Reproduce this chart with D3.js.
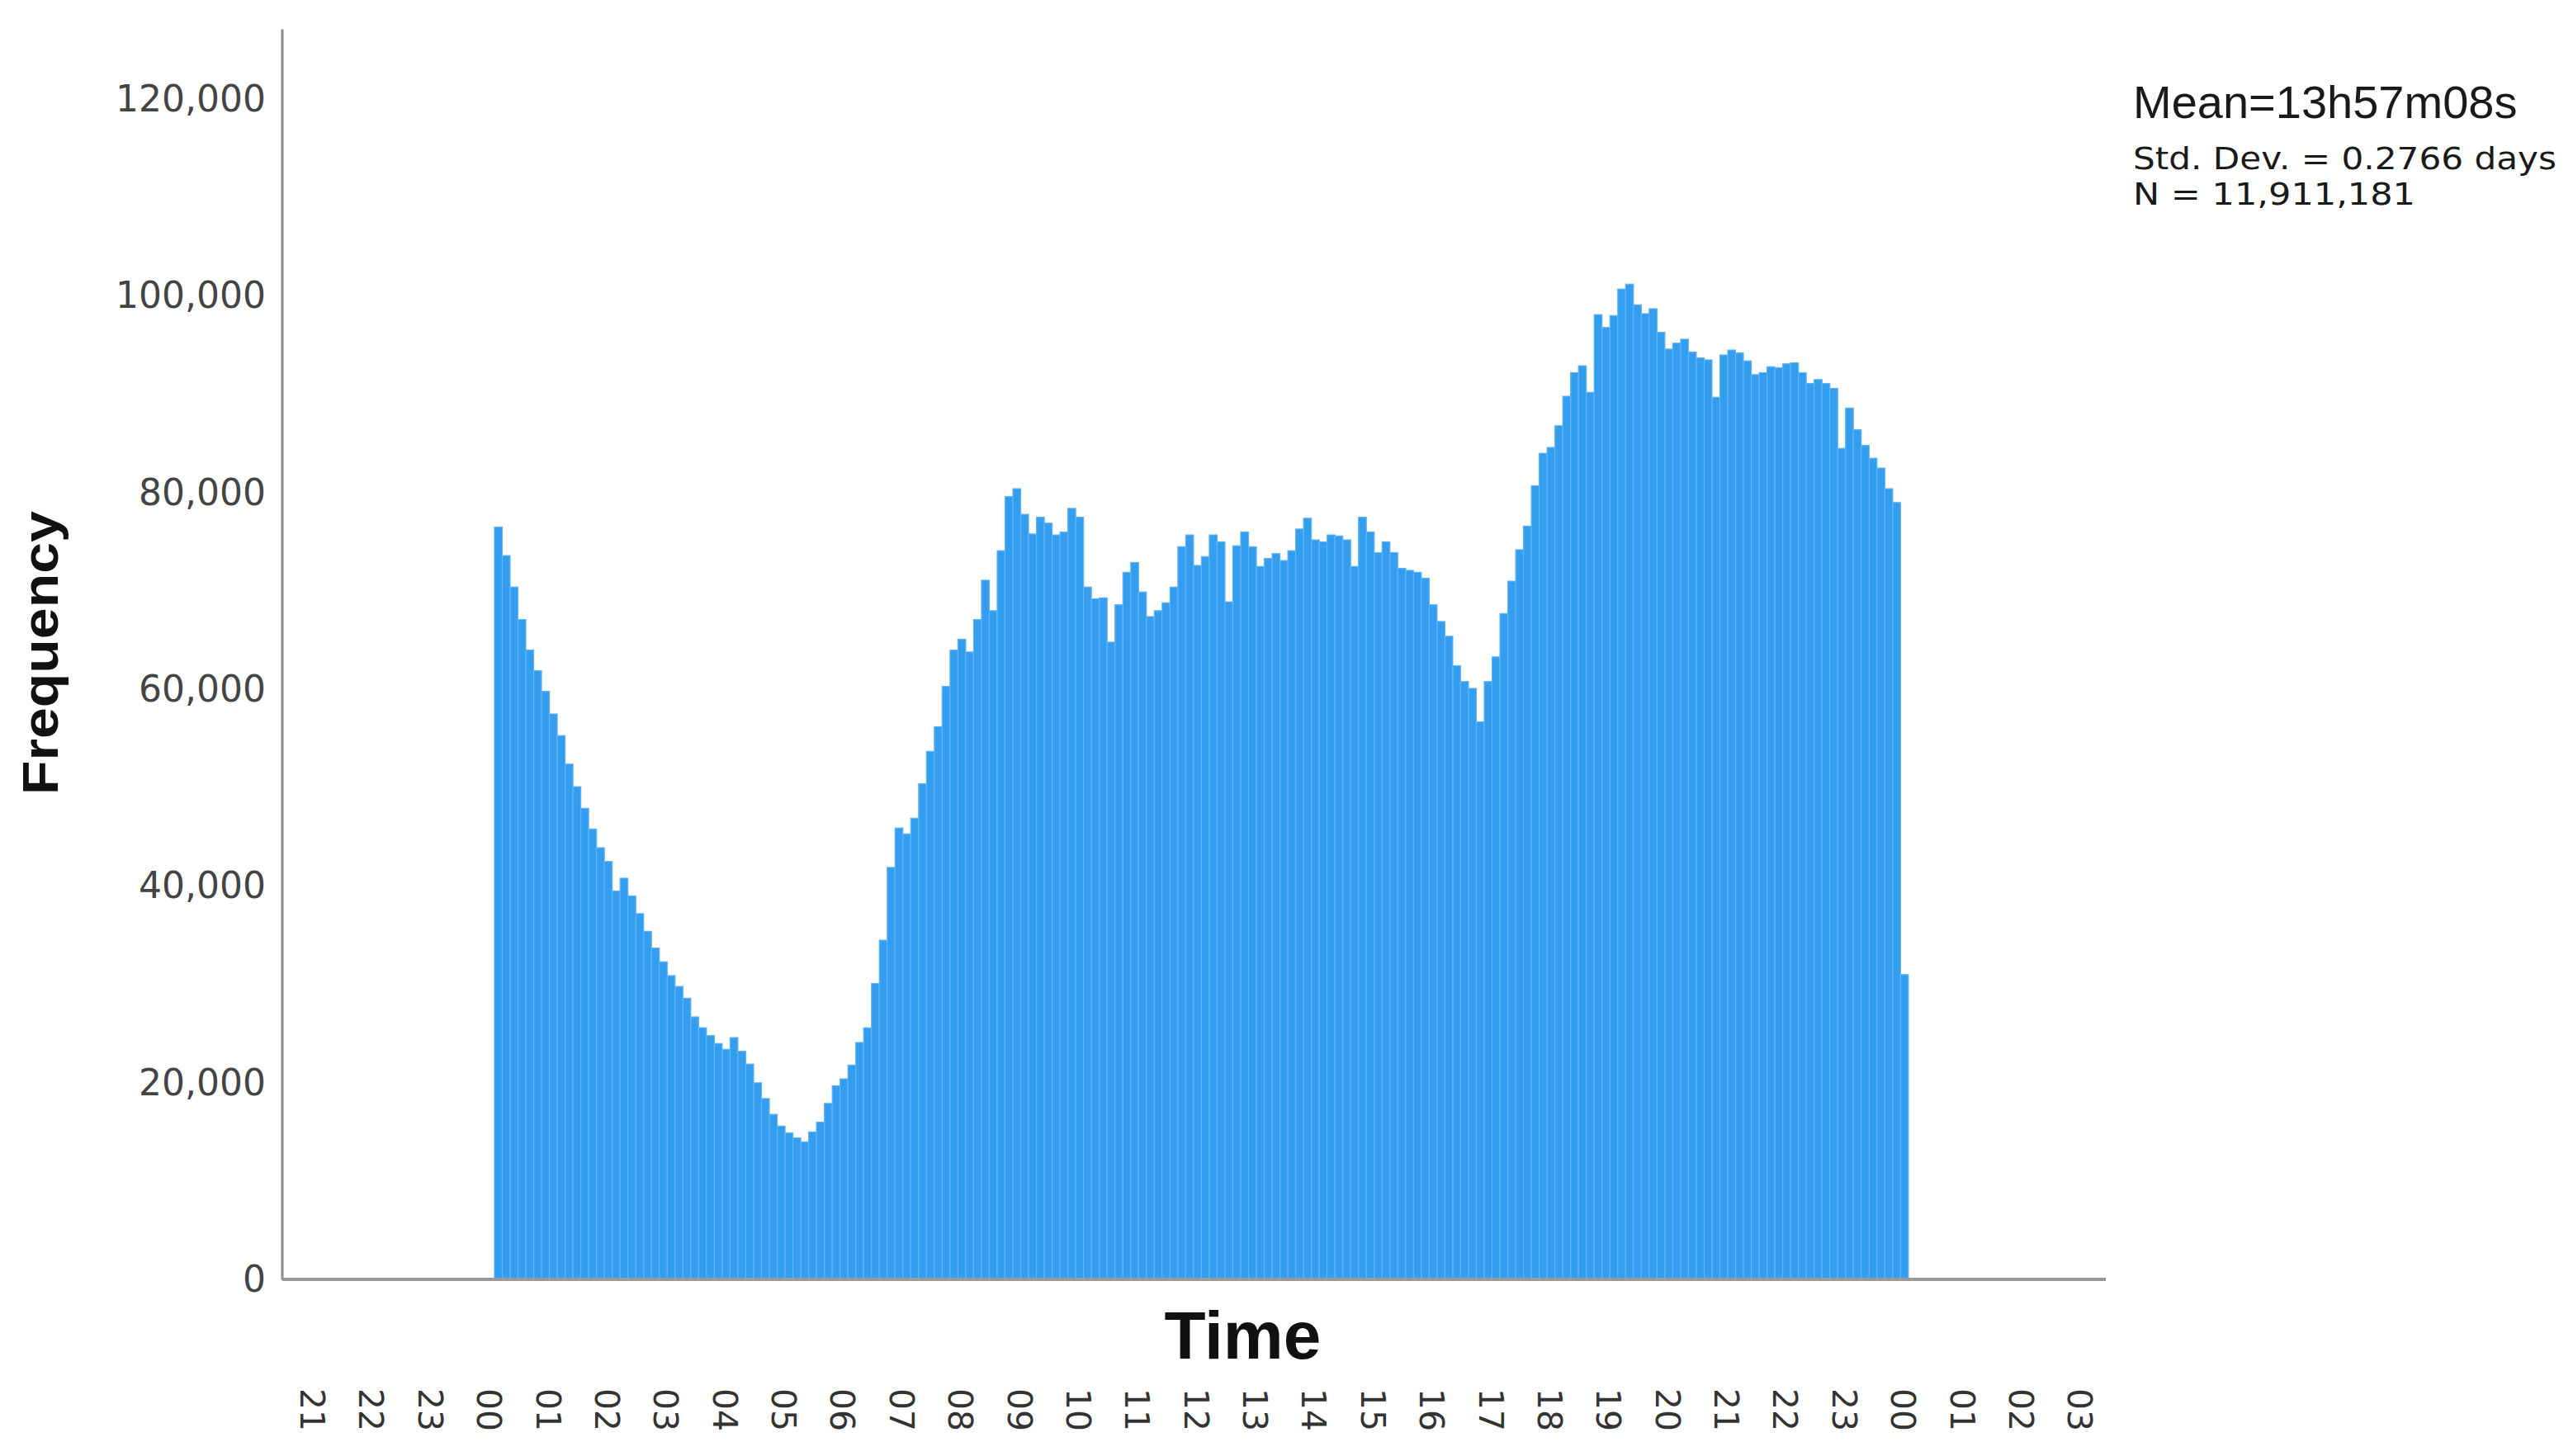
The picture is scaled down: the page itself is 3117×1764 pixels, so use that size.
<!DOCTYPE html>
<html>
<head>
<meta charset="utf-8">
<script src="https://cdn.jsdelivr.net/npm/d3@7"></script>
<style>
  body { margin: 0; background: #ffffff; }
</style>
</head>
<body>
<script>
// VARIABLE CADRE
const largeur = 3117;
const hauteur = 1764;

// Données : fréquences par tranche de 8 minutes, de 00:00 à 24:00
const frequences = [
  76400, 73500, 70300, 67000, 63900, 61800, 59700, 57400, 55200, 52300,
  50000, 47800, 45700, 43800, 42400, 39400, 40700, 38900, 37100, 35300,
  33600, 32200, 30800, 29700, 28500, 26600, 25500, 24700, 23900, 23300,
  24500, 23100, 21800, 19900, 18300, 16700, 15500, 14800, 14300, 13900,
  14900, 15900, 17800, 19600, 20300, 21700, 24000, 25500, 30000, 34400,
  41800, 45800, 45200, 46800, 50300, 53600, 56100, 60200, 63900, 65000,
  63700, 67000, 71000, 67900, 74000, 79500, 80300, 77700, 75700, 77400,
  76800, 75600, 75900, 78300, 77400, 70300, 69100, 69200, 64700, 68500,
  71800, 72800, 69800, 67300, 67900, 68700, 70300, 74400, 75600, 72500,
  73400, 75600, 74900, 68800, 74500, 75900, 74400, 72400, 73200, 73700,
  73000, 74000, 76200, 77300, 75100, 74900, 75600, 75500, 75100, 72400,
  77400, 75900, 73800, 74900, 73800, 72200, 72000, 71800, 71200, 68500,
  66800, 65300, 62300, 60700, 60000, 56600, 60700, 63200, 67600, 70900,
  74100, 76500, 80600, 83900, 84500, 86700, 89700, 92100, 92800, 90100,
  98000, 96700, 97900, 100600, 101100, 99000, 98100, 98600, 96200, 94500,
  95100, 95500, 94200, 93600, 93400, 89600, 93900, 94400, 94100, 93300,
  91900, 92100, 92700, 92600, 93000, 93100, 92100, 91000, 91400, 91000,
  90500, 84400, 88500, 86300, 84700, 83400, 82400, 80300, 78900, 30900
];
const largeurClasse = 8 / 60; // en heures

// heures affichées sous l'axe (de 21h la veille à 03h le lendemain)
const heuresTicks = d3.range(-3, 28);
const etiquettesHeures = heuresTicks.map(h => String(((h % 24) + 24) % 24).padStart(2, "0"));

const ticksY = [0, 20000, 40000, 60000, 80000, 100000, 120000];

const stats = ["Mean=13h57m08s", "Std. Dev. = 0.2766 days", "N = 11,911,181"];

//Le fond
const svg = d3
  .select("body")
  .append("svg")
  .attr("width", largeur)
  .attr("height", hauteur)
  .style("background", "#ffffff");

// échelles
const x = d3.scaleLinear()
  .domain([-3.6, 27.35])
  .range([342, 2551]);

const y = d3.scaleLinear()
  .domain([0, 120000])
  .range([1549, 119]);

// barres
svg.append("g")
  .selectAll("rect")
  .data(frequences)
  .join("rect")
  .attr("x", (d, i) => x(i * largeurClasse))
  .attr("width", (d, i) => x((i + 1) * largeurClasse) - x(i * largeurClasse))
  .attr("y", d => y(d))
  .attr("height", d => y(0) - y(d))
  .attr("fill", "#339df0")
  .attr("stroke", "#62b3f2")
  .attr("stroke-width", 1.2);

// axes
svg.append("line")
  .attr("x1", x(-3.6)).attr("x2", x(-3.6))
  .attr("y1", y(0) + 1.5).attr("y2", y(127000))
  .attr("stroke", "#8c8c8c")
  .attr("stroke-width", 3);

svg.append("line")
  .attr("x1", x(-3.6)).attr("x2", x(27.35))
  .attr("y1", y(0) + 1).attr("y2", y(0) + 1)
  .attr("stroke", "#999999")
  .attr("stroke-width", 4);

// étiquettes Y
svg.append("g")
  .selectAll("text")
  .data(ticksY)
  .join("text")
  .attr("x", 322)
  .attr("y", d => y(d))
  .attr("dy", "0.36em")
  .attr("text-anchor", "end")
  .style("font-family", "DejaVu Sans, sans-serif")
  .style("font-size", "44px")
  .style("fill", "#444444")
  .text(d => d3.format(",")(d));

// étiquettes des heures, tournées
svg.append("g")
  .selectAll("text")
  .data(heuresTicks)
  .join("text")
  .attr("transform", h => `translate(${x(h) - 6}, 1682) rotate(90)`)
  .attr("dy", "0.36em")
  .attr("text-anchor", "start")
  .style("font-family", "DejaVu Sans, sans-serif")
  .style("font-size", "41px")
  .style("fill", "#333333")
  .text((h, i) => etiquettesHeures[i]);

// titres des axes
svg.append("text")
  .attr("x", x(12.7))
  .attr("y", 1646)
  .attr("text-anchor", "middle")
  .style("font-family", "Liberation Sans, Arial, sans-serif")
  .style("font-weight", "bold")
  .style("font-size", "82px")
  .style("fill", "#111111")
  .text("Time");

svg.append("text")
  .attr("transform", `translate(70, ${y(63600)}) rotate(-90)`)
  .attr("text-anchor", "middle")
  .attr("textLength", 344)
  .attr("lengthAdjust", "spacingAndGlyphs")
  .style("font-family", "Liberation Sans, Arial, sans-serif")
  .style("font-weight", "bold")
  .style("font-size", "62px")
  .style("fill", "#111111")
  .text("Frequency");

// statistiques
svg.append("text")
  .attr("x", 2584)
  .attr("y", 143)
  .style("font-family", "Liberation Sans, Arial, sans-serif")
  .style("font-size", "56px")
  .style("fill", "#1a1a1a")
  .text(stats[0]);

svg.append("text")
  .attr("x", 2584)
  .attr("y", 205)
  .attr("textLength", 513)
  .attr("lengthAdjust", "spacingAndGlyphs")
  .style("font-family", "DejaVu Sans, sans-serif")
  .style("font-size", "38px")
  .style("fill", "#1a1a1a")
  .text(stats[1]);

svg.append("text")
  .attr("x", 2584)
  .attr("y", 248)
  .attr("textLength", 342)
  .attr("lengthAdjust", "spacingAndGlyphs")
  .style("font-family", "DejaVu Sans, sans-serif")
  .style("font-size", "38px")
  .style("fill", "#1a1a1a")
  .text(stats[2]);
</script>
</body>
</html>
